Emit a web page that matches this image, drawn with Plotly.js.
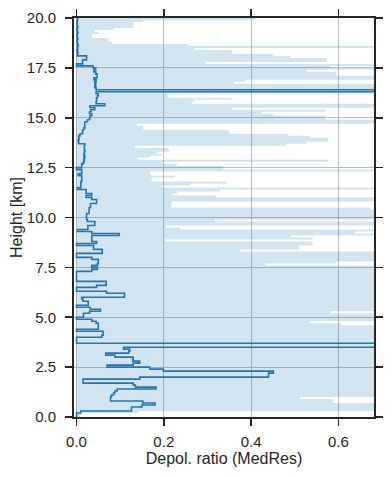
<!DOCTYPE html>
<html>
<head>
<meta charset="utf-8">
<script src="https://cdn.plot.ly/plotly-3.0.1.min.js"></script>
<style>html,body{margin:0;padding:0;background:#fff;}#chart{width:392px;height:477px;}</style>
</head>
<body>
<div id="chart"></div>
<script>
// Bin bottoms of the vertical profile [km], 0.1 km bins from 0 to 20 km
const binSize = 0.1;
const nBins = 200;
const binBottoms = Array.from({length: nBins}, (_, i) => +(i * binSize).toFixed(1));
const topHeight = 20.0;

// Median depolarisation ratio per bin (bottom -> top, 10 bins per row = 1 km)
const depolRatio = [
  0, 0, 0.01, 0.126, 0.126, 0.15, 0.18, 0.152, 0.078, 0.078,
  0.08, 0.085, 0.088, 0.093, 0.182, 0.135, 0.13, 0.015, 0.015, 0.145,
  0.44, 0.44, 0.451, 0.199, 0.168, 0.07, 0.13, 0.145, 0.129, 0.13,
  0.088, 0.067, 0.12, 0.122, 0.108, 0.9, 0.9, 0, 0, 0,
  0.058, 0.061, 0.061, 0, 0.05, 0.05, 0.05, 0.045, 0.035, 0,
  0.016, 0.016, 0.03, 0.055, 0.031, 0, 0.027, 0.027, 0.015, 0.012,
  0.11, 0.11, 0.069, 0, 0, 0.046, 0.068, 0.068, 0, 0,
  0, 0, 0, 0.035, 0.048, 0.035, 0.048, 0.05, 0.05, 0.035,
  0, 0, 0.059, 0.059, 0.039, 0.039, 0, 0.046, 0.035, 0.035,
  0.035, 0.098, 0.035, 0.002, 0.026, 0.026, 0.042, 0.042, 0.025, 0.023,
  0.023, 0.023, 0.029, 0.029, 0.029, 0.032, 0.032, 0.046, 0.046, 0.035,
  0.022, 0.035, 0.022, 0.022, 0.002, 0.01, 0.01, 0.01, 0.012, 0.012,
  0.012, 0.004, 0.012, 0.012, 0, 0.012, 0.012, 0.016, 0.018, 0.017,
  0.019, 0.017, 0.018, 0.019, 0.018, 0.018, 0.019, 0.005, 0.004, 0.006,
  0.005, 0.008, 0.014, 0.014, 0.017, 0.019, 0.019, 0.019, 0.025, 0.03,
  0.031, 0.035, 0.03, 0.033, 0.042, 0.031, 0.065, 0.045, 0.046, 0.046,
  0.048, 0.05, 0.045, 0.9, 0.045, 0.042, 0.044, 0.042, 0.045, 0.04,
  0.047, 0.047, 0.044, 0.04, 0.044, 0.038, 0, 0.014, 0.014, 0.023,
  0.023, 0.002, 0.003, 0.001, 0.003, 0.002, 0.004, 0.002, 0.001, 0.003,
  0.002, 0.001, 0.003, 0.002, 0.001, 0.003, 0.002, 0.001, 0.002, 0.003
];

// Upper edge of the shaded spread per bin (bottom -> top)
const spreadTop = [
  0.01, 0.01, 0.142, 0.9, 0.9, 0.9, 0.9, 0.588, 0.588, 0.512,
  0.9, 0.9, 0.9, 0.9, 0.9, 0.9, 0.9, 0.9, 0.9, 0.9,
  0.9, 0.9, 0.9, 0.9, 0.9, 0.9, 0.9, 0.9, 0.9, 0.9,
  0.9, 0.9, 0.9, 0.9, 0.9, 0.9, 0.9, 0.9, 0.9, 0.9,
  0.9, 0.9, 0.9, 0.9, 0.9, 0.9, 0.607, 0.536, 0.9, 0.9,
  0.9, 0.9, 0.581, 0.9, 0.9, 0.9, 0.9, 0.9, 0.9, 0.9,
  0.9, 0.9, 0.9, 0.9, 0.9, 0.9, 0.9, 0.9, 0.9, 0.9,
  0.9, 0.9, 0.9, 0.9, 0.9, 0.9, 0.432, 0.596, 0.9, 0.9,
  0.9, 0.9, 0.9, 0.375, 0.51, 0.51, 0.541, 0.541, 0.203, 0.541,
  0.491, 0.9, 0.638, 0.9, 0.237, 0.205, 0.9, 0.9, 0.317, 0.9,
  0.9, 0.9, 0.9, 0.9, 0.672, 0.216, 0.218, 0.218, 0.9, 0.9,
  0.32, 0.22, 0.23, 0.329, 0.9, 0.195, 0.26, 0.344, 0.172, 0.172,
  0.226, 0.17, 0.168, 0.9, 0.336, 0.336, 0.23, 0.199, 0.577, 0.14,
  0.168, 0.195, 0.184, 0.213, 0.21, 0.134, 0.48, 0.527, 0.577, 0.577,
  0.535, 0.485, 0.35, 0.348, 0.153, 0.153, 0.138, 0.9, 0.9, 0.57,
  0.57, 0.45, 0.424, 0.57, 0.356, 0.9, 0.9, 0.264, 0.27, 0.356,
  0.21, 0.21, 0.9, 0.9, 0.9, 0.9, 0.9, 0.36, 0.386, 0.9,
  0.9, 0.596, 0.596, 0.527, 0.9, 0.58, 0.9, 0.295, 0.573, 0.573,
  0.49, 0.45, 0.356, 0.356, 0.27, 0.9, 0.256, 0.081, 0.073, 0.073,
  0.035, 0.035, 0.05, 0.042, 0.084, 0.13, 0.13, 0.13, 0.153, 0.41
];

const xTickVals = [0, 0.2, 0.4, 0.6];
const xTickText = ['0.0', '0.2', '0.4', '0.6'];
const yTickVals = [0, 2.5, 5, 7.5, 10, 12.5, 15, 17.5, 20];
const yTickText = ['0.0', '2.5', '5.0', '7.5', '10.0', '12.5', '15.0', '17.5', '20.0'];

// step profile: each value spans [bottom, bottom + binSize]; close at the top
const yEdges = binBottoms.concat([topHeight]);
const xDepol = depolRatio.concat([depolRatio[depolRatio.length - 1]]);
const xSpread = spreadTop.concat([spreadTop[spreadTop.length - 1]]);

const ink = '#262626';
const font = 'Liberation Sans, Arial, sans-serif';

const traces = [
  {
    x: xSpread, y: yEdges, type: 'scatter', mode: 'lines',
    line: {shape: 'vh', width: 0, color: 'rgba(31,119,180,0)'},
    fill: 'tozerox', fillcolor: 'rgba(31,119,180,0.2)',
    hoverinfo: 'skip', showlegend: false
  },
  {
    x: xDepol, y: yEdges, type: 'scatter', mode: 'lines',
    line: {shape: 'vh', width: 1.6, color: '#1f77b4'},
    showlegend: false
  }
];

const axisCommon = {
  ticks: 'outside', ticklen: 7, tickwidth: 1.7, tickcolor: ink,
  showline: true, linewidth: 2, linecolor: ink, mirror: 'ticks',
  showgrid: true, gridcolor: '#bdbdbd', gridwidth: 1, zeroline: false,
  tickfont: {family: font, size: 15, color: ink}
};

const layout = {
  width: 392, height: 477,
  margin: {l: 74, r: 18, t: 18, b: 60},
  paper_bgcolor: '#ffffff', plot_bgcolor: '#ffffff',
  showlegend: false,
  font: {family: font, color: ink},
  xaxis: Object.assign({}, axisCommon, {
    range: [-0.0057, 0.6816],
    tickmode: 'array', tickvals: xTickVals, ticktext: xTickText,
    ticklabelstandoff: 3,
    title: {text: 'Depol. ratio (MedRes)', font: {family: font, size: 16, color: ink}, standoff: 2}
  }),
  yaxis: Object.assign({}, axisCommon, {
    range: [0, 20],
    tickmode: 'array', tickvals: yTickVals, ticktext: yTickText,
    ticklabelstandoff: 6,
    title: {text: 'Height [km]', font: {family: font, size: 16, color: ink}, standoff: 0}
  })
};

Plotly.newPlot('chart', traces, layout, {displayModeBar: false, staticPlot: true});
</script>
</body>
</html>
